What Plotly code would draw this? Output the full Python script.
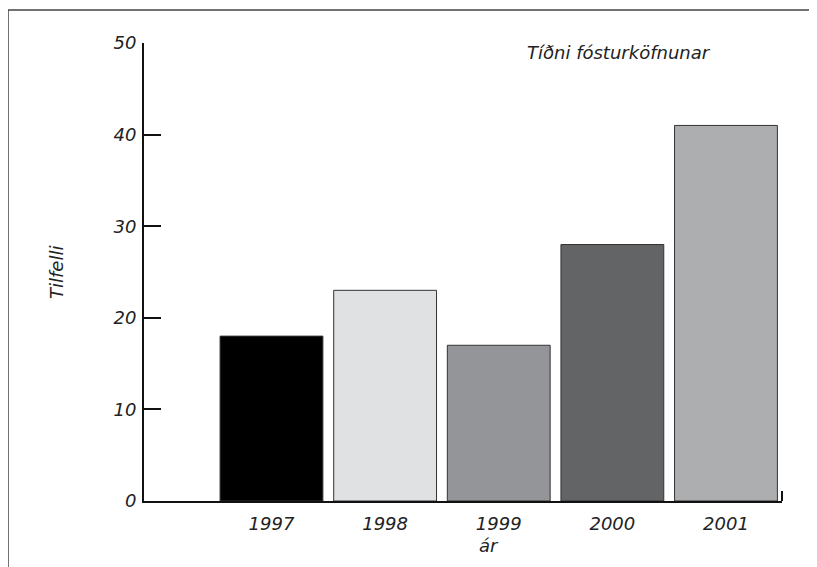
import plotly.graph_objects as go

years = ["1997", "1998", "1999", "2000", "2001"]
cases = [18, 23, 17, 28, 41]
bar_colors = ["#000000", "#e0e1e3", "#949598", "#636466", "#adaeb0"]
y_ticks = [0, 10, 20, 30, 40, 50]

FONT = "DejaVu Sans"
TXT = "#222222"
OFF = 8  # page body offset

fig = go.Figure()
fig.add_trace(go.Bar(
    x=years, y=cases,
    marker=dict(color=bar_colors, line=dict(color="#333333", width=1)),
    width=0.905,
))

W, H = 817, 567
L, R, T, B = 144 - OFF, 817 - 782 + OFF, 43 - OFF, 567 - 501 + OFF
pw, ph = W - L - R, H - T - B

def px_x(p):
    return (p - OFF - L) / pw

def px_y(p):
    return (H - B - (p - OFF)) / ph

fig.update_layout(
    width=W, height=H,
    margin=dict(l=L, r=R, t=T, b=B, pad=0),
    paper_bgcolor="white", plot_bgcolor="white",
    showlegend=False,
    font=dict(family=FONT, size=18, color=TXT),
    xaxis=dict(
        type="category", range=[-1.122, 4.493],
        showline=True, linecolor="#111111", linewidth=2,
        ticks="", showgrid=False, zeroline=False,
        tickfont=dict(family=FONT, size=18, color=TXT, style="italic"),
        ticklabelstandoff=5,
    ),
    yaxis=dict(
        range=[0, 50], tickvals=y_ticks,
        showline=True, linecolor="#111111", linewidth=2,
        ticks="inside", ticklen=17, tickwidth=2, tickcolor="#111111",
        showgrid=False, zeroline=False,
        tickfont=dict(family=FONT, size=18, color=TXT, style="italic"),
        ticklabelstandoff=2,
    ),
    annotations=[
        dict(text="Tíðni fósturköfnunar", xref="paper", yref="paper",
             x=px_x(713), y=px_y(52), xanchor="right", yanchor="middle",
             showarrow=False, font=dict(family=FONT, size=18, color=TXT, style="italic")),
        dict(text="Tilfelli", xref="paper", yref="paper",
             x=px_x(56), y=px_y(273), xanchor="center", yanchor="middle",
             textangle=-90, showarrow=False,
             font=dict(family=FONT, size=18, color=TXT, style="italic")),
        dict(text="ár", xref="paper", yref="paper",
             x=px_x(489), y=px_y(545), xanchor="center", yanchor="middle",
             showarrow=False, font=dict(family=FONT, size=18, color=TXT, style="italic")),
    ],
    shapes=[
        dict(type="path", xref="paper", yref="paper",
             path=f"M {px_x(830)},{px_y(10)} L {px_x(8)},{px_y(10)} L {px_x(8)},{px_y(580)}",
             line=dict(color="#444444", width=1.5)),
        dict(type="line", xref="paper", yref="paper",
             x0=1, x1=1, y0=0, y1=px_y(491),
             line=dict(color="#111111", width=2)),
    ],
)

fig.write_html("out.html")
